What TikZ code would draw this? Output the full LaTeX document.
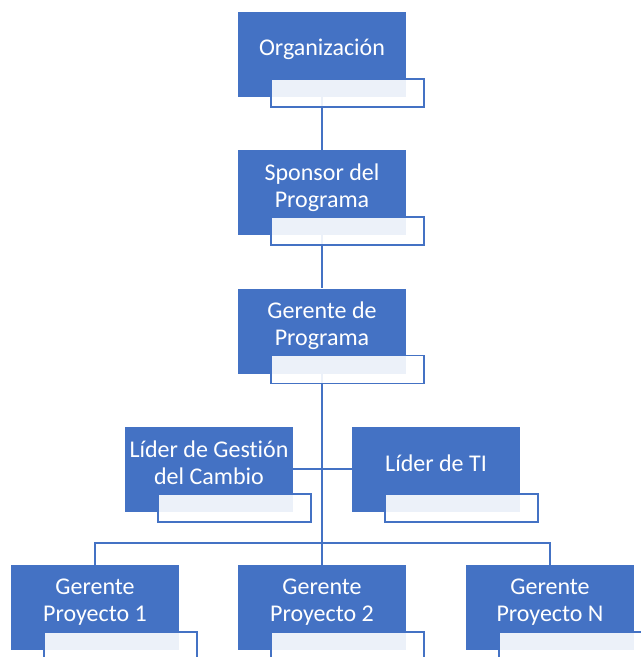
\documentclass[tikz,border=0pt]{standalone}
\usepackage{fontspec}
\setmainfont[Ligatures=NoCommon]{Carlito}
\usetikzlibrary{backgrounds}
\definecolor{ablue}{HTML}{4472C4}
\begin{document}
\begin{tikzpicture}[x=0.75pt,y=-0.75pt,
  bluebox/.style={draw=none,fill=ablue,minimum width=126pt,minimum height=63.75pt,inner sep=0pt},
  boxtext/.style={text=white,align=center,font=\fontsize{18}{20.5}\selectfont,inner sep=0pt},
  tagbox/.style={draw=ablue,line width=1.1pt,fill=white,fill opacity=0.9,minimum width=114.75pt,minimum height=21pt,inner sep=0pt},
  conn/.style={draw=ablue,line width=1.1pt}]
\useasboundingbox (0,0) rectangle (641,657);
\clip (0,0) rectangle (641,657);
% blue boxes
\node[bluebox] (org) at (322,54.5) {};
\node[bluebox] (spon) at (322,192.5) {};
\node[bluebox] (ger) at (322,331) {};
\node[bluebox] (lg) at (209,469) {};
\node[bluebox] (ti) at (436,469) {};
\node[bluebox] (p1) at (95,607.5) {};
\node[bluebox] (p2) at (322,607.5) {};
\node[bluebox] (pN) at (550,607.5) {};
% texts
\node[boxtext] (orgT) at (322,49) {Organización};
\node[boxtext] (sponT) at (322,188) {Sponsor del\\Programa};
\node[boxtext] (gerT) at (322,326) {Gerente de\\Programa};
\node[boxtext] (lgT) at (209,463) {Líder de Gestión\\del Cambio};
\node[boxtext] (tiT) at (436,463.5) {Líder de TI};
\node[boxtext] (p1T) at (95,602) {Gerente\\Proyecto 1};
\node[boxtext] (p2T) at (322,602) {Gerente\\Proyecto 2};
\node[boxtext] (pNT) at (550,602) {Gerente\\Proyecto N};
% tag boxes
\node[tagbox] (orgL) at (347.5,93) {};
\node[tagbox] (sponL) at (347.5,231) {};
\node[tagbox] (gerL) at (347.5,369.5) {};
\node[tagbox] (lgL) at (234.5,508) {};
\node[tagbox] (tiL) at (461.5,508) {};
\node[tagbox] (p1L) at (120.5,646) {};
\node[tagbox] (p2L) at (347.5,646) {};
\node[tagbox] (pNL) at (575.5,646) {};
% connectors
\coordinate (bus) at (322,543);
\begin{scope}[on background layer]
\draw[conn] (org.south) -- (spon.north);
\draw[conn] (spon.south) -- (ger.north);
\draw[conn] (ger.south) -- (p2.north);
\draw[conn] (lg.east) -- (ti.west);
\draw[conn] (p1.north) |- (bus) -| (pN.north);
\end{scope}
\end{tikzpicture}
\end{document}
